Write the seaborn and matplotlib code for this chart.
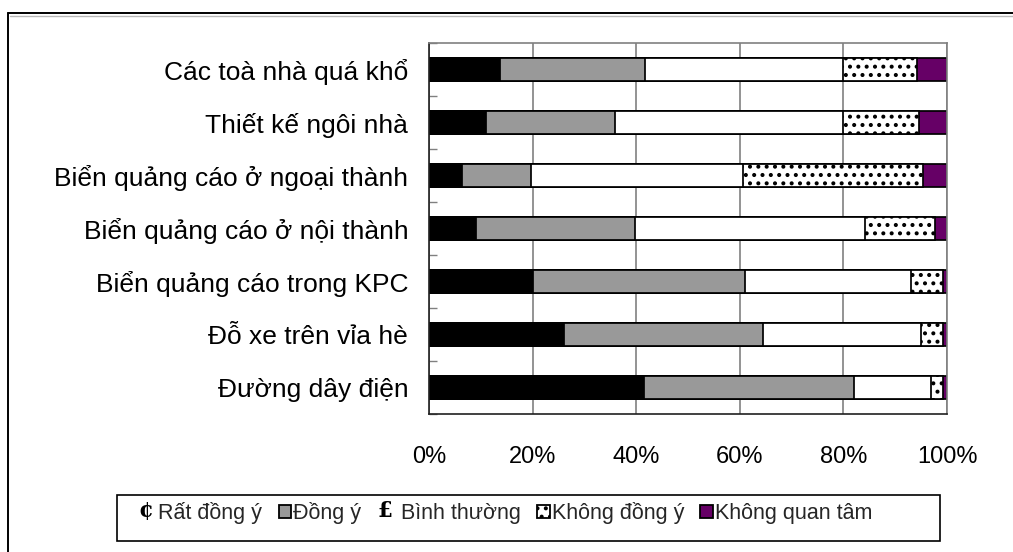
import matplotlib
matplotlib.use("Agg")
import matplotlib.pyplot as plt
import seaborn as sns
import numpy as np
from matplotlib.patches import Patch, Rectangle
from matplotlib.lines import Line2D
from matplotlib.text import Text

# ---- data (percent of respondents per item) ----
categories = [
    "Các toà nhà quá khổ",
    "Thiết kế ngôi nhà",
    "Biển quảng cáo ở ngoại thành",
    "Biển quảng cáo ở nội thành",
    "Biển quảng cáo trong KPC",
    "Đỗ xe trên vỉa hè",
    "Đường dây điện",
]
rat_dong_y = [13.8, 11.0, 6.3, 9.1, 20.1, 26.0, 41.5]
dong_y = [27.9, 24.9, 13.4, 30.7, 40.9, 38.5, 40.6]
binh_thuong = [38.2, 44.0, 40.9, 44.4, 32.0, 30.4, 14.8]
khong_dong_y = [14.3, 14.6, 34.8, 13.4, 6.2, 4.3, 2.3]
khong_quan_tam = [5.8, 5.5, 4.6, 2.4, 0.8, 0.8, 0.8]

series_labels = ["Rất đồng ý", "Đồng ý", "Bình thường", "Không đồng ý", "Không quan tâm"]
x_ticks = [0, 20, 40, 60, 80, 100]

# ---- styles ----
colors = ["#000000", "#999999", "#ffffff", "#ffffff", "#660066"]
hatches = [None, None, None, "..", None]

W, H = 1013, 552
sns.set_theme(style="white")
plt.rcParams["font.family"] = ["Liberation Sans", "DejaVu Sans"]
plt.rcParams["hatch.linewidth"] = 1.7
plt.rcParams["hatch.color"] = "black"

fig = plt.figure(figsize=(W / 100, H / 100), dpi=100)
fig.patch.set_facecolor("white")


def px_rect(x0, y0, x1, y1):
    return [x0 / W, 1 - y1 / H, (x1 - x0) / W, (y1 - y0) / H]


ax = fig.add_axes(px_rect(429, 43, 947, 414))
ax.set_facecolor("white")

values = np.array([rat_dong_y, dong_y, binh_thuong, khong_dong_y, khong_quan_tam])
cumulative = np.cumsum(values, axis=0)

# stacked bars: draw each running total from the back to the front
for i in reversed(range(len(series_labels))):
    sns.barplot(
        x=cumulative[i], y=categories, orient="h",
        color=colors[i], saturation=1, width=0.42,
        edgecolor="black", linewidth=1.25, hatch=hatches[i],
        errorbar=None, ax=ax,
    )

ax.set_xlim(0, 100)
ax.set_ylim(len(categories) - 0.5, -0.5)
ax.set_xlabel("")
ax.set_ylabel("")

ax.set_axisbelow(True)
ax.grid(axis="x", color="#808080", lw=1.2)
ax.grid(axis="y", visible=False)

for side in ("top", "right"):
    ax.spines[side].set_color("#808080")
    ax.spines[side].set_linewidth(1.2)
for side in ("left", "bottom"):
    ax.spines[side].set_color("#202020")
    ax.spines[side].set_linewidth(1.2)

ax.set_xticks(x_ticks)
ax.set_xticklabels([f"{t}%" for t in x_ticks])
ax.tick_params(axis="x", length=0, pad=23, labelsize=17, labelcolor="black")
ax.tick_params(axis="y", which="major", length=0, pad=15, labelsize=19, labelcolor="black")
ax.set_yticks(np.arange(-0.5, len(categories), 1.0), minor=True)
ax.tick_params(axis="y", which="minor", left=True, direction="in",
               length=6, width=1, color="#808080")


# ---- legend ----
class GlyphHandler:
    def __init__(self, glyph, width_em):
        self.glyph = glyph
        self.width_em = width_em

    def legend_artist(self, legend, orig_handle, fontsize, handlebox):
        handlebox.width = self.width_em * fontsize
        y = -handlebox.ydescent + handlebox.height / 2
        t = Text(0, y, self.glyph, ha="left", va="center",
                 fontsize=fontsize, fontweight="bold", family="DejaVu Serif",
                 color="black")
        handlebox.add_artist(t)
        return t


h_rat = Patch(facecolor="none", edgecolor="none")
h_dong = Patch(facecolor=colors[1], edgecolor="black", lw=1.3)
h_binh = Patch(facecolor="none", edgecolor="none")
h_khong = Patch(facecolor="white", edgecolor="black", hatch="..", lw=1.3)
h_kqt = Patch(facecolor=colors[4], edgecolor="black", lw=1.3)

fig.legend(
    [h_rat, h_dong, h_binh, h_khong, h_kqt], series_labels,
    loc="center left", bbox_to_anchor=(138 / W, 1 - 513 / H),
    ncol=5, frameon=False, fontsize=15.5,
    handlelength=0.58, handleheight=0.58, handletextpad=0.1,
    columnspacing=0.75, borderpad=0, borderaxespad=0,
    handler_map={h_rat: GlyphHandler("¢", 0.85), h_binh: GlyphHandler("£", 1.0)},
)

fig.add_artist(Rectangle((117 / W, 1 - 541 / H), (940 - 117) / W, (541 - 495) / H,
                         fill=False, edgecolor="black", lw=1.2,
                         transform=fig.transFigure))

# outer frame (top and left edges)
fig.add_artist(Line2D([8 / W, 1.0], [1 - 13 / H, 1 - 13 / H], color="black", lw=1.4,
                      transform=fig.transFigure))
fig.add_artist(Line2D([10 / W, 1.0], [1 - 15.5 / H, 1 - 15.5 / H], color="#b8b8b8", lw=1.0,
                      transform=fig.transFigure))
fig.add_artist(Line2D([8 / W, 8 / W], [0, 1 - 13 / H], color="black", lw=1.4,
                      transform=fig.transFigure))

fig.savefig("out.png", dpi=100, facecolor="white")
